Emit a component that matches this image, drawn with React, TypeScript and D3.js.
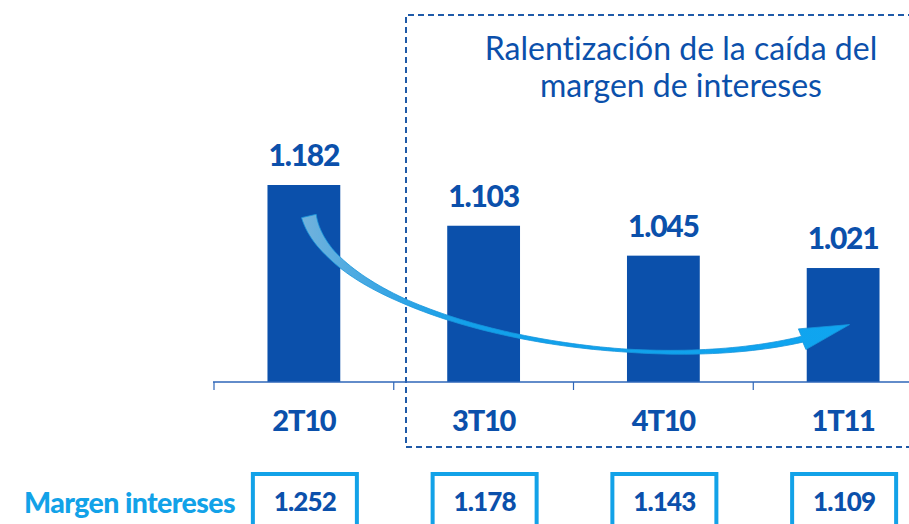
import React from "react";
import * as d3 from "d3";

const categories = ["2T10", "3T10", "4T10", "1T11"];
const values = [1182, 1103, 1045, 1021];
const valueLabels = ["1.182", "1.103", "1.045", "1.021"];
const marginLabels = ["1.252", "1.178", "1.143", "1.109"];
const rowLabel = "Margen intereses";
const titleLines = ["Ralentización de la caída del", "margen de intereses"];

const W = 909;
const H = 524;
const DARK = "#0b50ab";
const LIGHT = "#12a2e8";
const FONT = "Lato, 'Open Sans', sans-serif";

export default function App() {
  const x = d3.scaleBand<string>().domain(categories).range([214, 933]).padding(0);
  const y = d3.scaleLinear().domain([800, 1182]).range([382, 185]);
  const bw = x.step() * 0.405;
  const cx = (c: string) => (x(c) as number) + x.bandwidth() / 2;

  // arrow (decorative) built from bar positions
  const P0: [number, number] = [cx(categories[0]) + 5, y(values[0]) + 31];
  const P1: [number, number] = [P0[0] + 25, P0[1] + 110];
  const P3: [number, number] = [cx(categories[3]) - 3, y(values[3]) + 60];
  const P2: [number, number] = [P3[0] - 170, P3[1] + 62];
  const bez = (t: number) => {
    const a = (1 - t) ** 3, b = 3 * (1 - t) ** 2 * t, c = 3 * (1 - t) * t * t, d = t ** 3;
    return [a * P0[0] + b * P1[0] + c * P2[0] + d * P3[0], a * P0[1] + b * P1[1] + c * P2[1] + d * P3[1]];
  };
  const der = (t: number) => {
    const a = -3 * (1 - t) ** 2, b = 3 * (1 - t) ** 2 - 6 * (1 - t) * t, c = 6 * (1 - t) * t - 3 * t * t, d = 3 * t * t;
    return [a * P0[0] + b * P1[0] + c * P2[0] + d * P3[0], a * P0[1] + b * P1[1] + c * P2[1] + d * P3[1]];
  };
  const wf = d3.scaleLinear().domain([0, 0.12, 0.3, 0.65, 0.93, 1]).range([15, 9, 5, 3, 6, 6]);
  const N = 90;
  const left: [number, number][] = [];
  const right: [number, number][] = [];
  for (let i = 0; i <= N; i++) {
    const t = (i / N) * 0.93;
    const p = bez(t);
    const dv = der(t);
    const len = Math.hypot(dv[0], dv[1]);
    const nx = -dv[1] / len, ny = dv[0] / len;
    const w = wf(t) / 2;
    left.push([p[0] + nx * w, p[1] + ny * w]);
    right.push([p[0] - nx * w, p[1] - ny * w]);
  }
  const tb = 0.93;
  const pb = bez(tb);
  const de = der(1);
  const le = Math.hypot(de[0], de[1]);
  const ux = de[0] / le, uy = de[1] / le;
  const nx = -uy, ny = ux;
  const tip: [number, number] = [P3[0] + ux * 10, P3[1] + uy * 10];
  const hw = 11;
  const headL: [number, number] = [pb[0] + nx * hw, pb[1] + ny * hw];
  const headR: [number, number] = [pb[0] - nx * hw, pb[1] - ny * hw];
  const poly = [...left, headL, tip, headR, ...right.reverse()];
  const arrowPath = d3.line()(poly) + "Z";

  return (
    <svg width={W} height={H} style={{ position: "absolute", left: 0, top: 0, background: "#fff" }}>
      <defs>
        <linearGradient id="arrowGrad" x1="0" x2="1" y1="0" y2="0">
          <stop offset="0" stopColor="#72b2dc" />
          <stop offset="0.15" stopColor="#3aa6e4" />
          <stop offset="0.3" stopColor="#12a0ea" />
          <stop offset="1" stopColor="#0fa5f0" />
        </linearGradient>
      </defs>

      {/* dashed box */}
      <path
        d={`M${W + 5},15 H406 V447 H${W + 5}`}
        fill="none"
        stroke="#1f5aa8"
        strokeWidth={2}
        strokeDasharray="6,4"
      />

      {/* title */}
      {titleLines.map((t, i) => (
        <text key={i} x={681} y={60 + i * 37} textAnchor="middle" fill={DARK}
          style={{ fontFamily: FONT, fontSize: 32, fontVariantLigatures: "none" }}>{t}</text>
      ))}

      {/* bars */}
      {categories.map((c, i) => (
        <rect key={c} x={cx(c) - bw / 2} y={y(values[i])} width={bw} height={y(800) - y(values[i])} fill={DARK} />
      ))}

      {/* value labels */}
      {categories.map((c, i) => (
        <text key={c} x={cx(c)} y={y(values[i]) - 19} textAnchor="middle" fill={DARK}
          style={{ fontFamily: FONT, fontSize: 30, fontWeight: 900, letterSpacing: -1.2 }}>{valueLabels[i]}</text>
      ))}

      {/* axis */}
      <line x1={213} x2={W} y1={382} y2={382} stroke="#2e66b8" strokeWidth={1.5} />
      {[...categories.map((c) => x(c) as number)].map((t, i) => (
        <line key={i} x1={t} x2={t} y1={382} y2={390} stroke="#2e66b8" strokeWidth={1.2} />
      ))}
      {categories.map((c) => (
        <text key={c} x={cx(c)} y={431} textAnchor="middle" fill={DARK}
          style={{ fontFamily: FONT, fontSize: 29, fontWeight: 900, letterSpacing: -1.2 }}>{c}</text>
      ))}

      {/* arrow */}
      <path d={arrowPath} fill="url(#arrowGrad)" stroke="#1796dc" strokeWidth={0.8} />

      {/* bottom row */}
      <text x={24} y={513} fill={LIGHT}
        style={{ fontFamily: FONT, fontSize: 28.5, fontWeight: 900, letterSpacing: -0.6 }}>{rowLabel}</text>
      {categories.map((c, i) => (
        <g key={c}>
          <rect x={cx(c) - 51} y={474} width={104} height={60} fill="none" stroke={LIGHT} strokeWidth={4} />
          <text x={cx(c) + 1} y={511} textAnchor="middle" fill={DARK}
            style={{ fontFamily: FONT, fontSize: 26, fontWeight: 900, letterSpacing: -0.9 }}>{marginLabels[i]}</text>
        </g>
      ))}
    </svg>
  );
}
